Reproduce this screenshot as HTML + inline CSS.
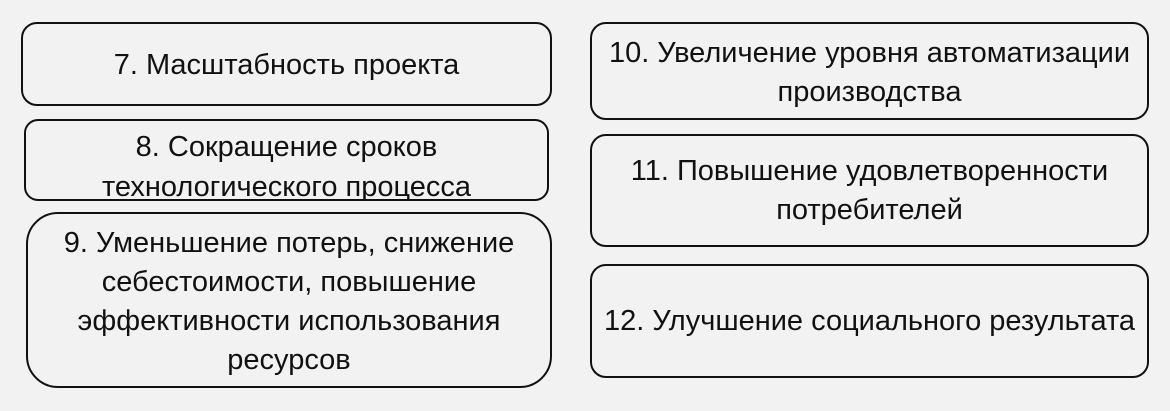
<!DOCTYPE html>
<html><head><meta charset="utf-8"><style>
body{margin:0;width:1170px;height:411px;background:#f2f2f2;position:relative;overflow:hidden;font-family:"Liberation Sans","DejaVu Sans",sans-serif;color:#111}
.b{position:absolute;box-sizing:border-box;border:2.5px solid #111;background:#f2f2f2;display:flex;align-items:center;justify-content:center;text-align:center;font-size:29px;line-height:39px;overflow:hidden;white-space:nowrap}
</style></head><body>
<div class="b" style="left:21px;top:22px;width:531px;height:84px;border-radius:16px;padding-top:2px">7. Масштабность проекта</div>
<div class="b" style="left:24px;top:119px;width:525px;height:82px;border-radius:14px;align-items:flex-start;padding-top:6px;line-height:40px">8. Сокращение сроков<br>технологического процесса</div>
<div class="b" style="left:26px;top:212px;width:526px;height:176px;border-radius:32px;padding-top:4px">9. Уменьшение потерь, снижение<br>себестоимости, повышение<br>эффективности использования<br>ресурсов</div>
<div class="b" style="left:590px;top:22px;width:559px;height:98px;border-radius:16px;padding-top:3px">10. Увеличение уровня автоматизации<br>производства</div>
<div class="b" style="left:590px;top:134px;width:559px;height:113px;border-radius:16px">11. Повышение удовлетворенности<br>потребителей</div>
<div class="b" style="left:590px;top:264px;width:559px;height:114px;border-radius:16px">12. Улучшение социального результата</div>
</body></html>
